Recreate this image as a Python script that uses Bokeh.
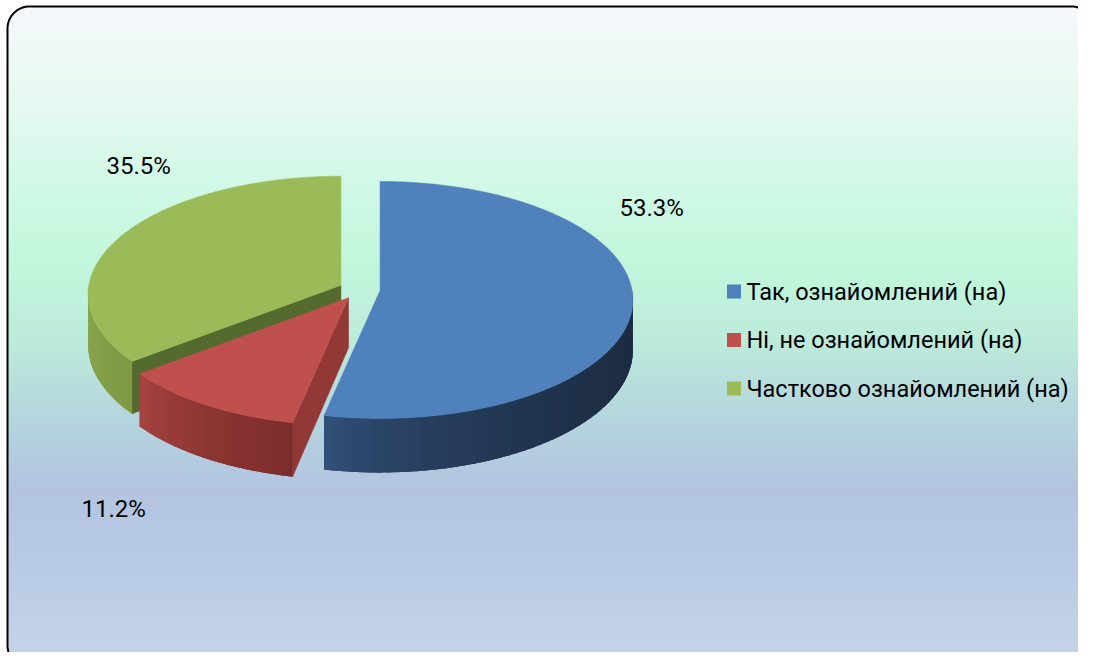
import math
from bokeh.plotting import figure
from bokeh.models import Range1d
from bokeh.core.properties import value
from bokeh.embed import file_html
from bokeh.resources import INLINE

# ---------------- data ----------------
categories = ["Так, ознайомлений (на)", "Ні, не ознайомлений (на)", "Частково ознайомлений (на)"]
shares = [53.3, 11.2, 35.5]
share_labels = ["53.3%", "11.2%", "35.5%"]

# ---------------- styles / layout ----------------
top_colors = ["#4F81BD", "#C0504D", "#9BBB59"]
side_light = ["#33527C", "#AA4542", "#88A44C"]
side_dark = ["#1C2C42", "#7A2C2A", "#7D9943"]
cut_colors = ["#22354F", "#923937", "#556A2F"]
label_pos = [(619, 207), (81, 508), (106, 165)]

W, H = 1078, 652
CX, CY = 359.0, 289.0        # pie centre (screen px)
RX, RY, K = 252.0, 118.5, 0.08
DEPTH = 50.0
EXPLODE = 0.082

p = figure(width=W, height=H, output_backend="svg", toolbar_location=None,
           x_range=Range1d(0, W), y_range=Range1d(H, 0),
           min_border=0, background_fill_color="white", border_fill_color="white")
p.axis.visible = False
p.grid.visible = False
p.outline_line_color = None

# ---------------- background (rounded frame with gradient) ----------------
FX0, FY0, FX1, FY1, FR = 7.0, 6.0, 1093.0, 667.0, 22.0
stops = [(6, "#F5F8FC"), (80, "#EAF9F2"), (180, "#D2F8E7"), (260, "#C2F7DC"),
         (340, "#BCEBDA"), (420, "#B5D4DE"), (490, "#B2C4E0"), (580, "#BACBE5"),
         (668, "#C5D5EA")]

def hex2rgb(h):
    return tuple(int(h[i:i + 2], 16) for i in (1, 3, 5))

def lerp_col(c1, c2, t):
    a, b = hex2rgb(c1), hex2rgb(c2)
    return "#%02x%02x%02x" % tuple(int(round(a[i] + (b[i] - a[i]) * t)) for i in range(3))

def bg_color(y):
    for (y0, c0), (y1, c1) in zip(stops[:-1], stops[1:]):
        if y0 <= y <= y1:
            return lerp_col(c0, c1, (y - y0) / (y1 - y0))
    return stops[-1][1] if y > stops[-1][0] else stops[0][1]

qx0, qx1, qy0, qy1, qc = [], [], [], [], []
y = FY0
step = 2.0
while y < FY1:
    ym = y + step / 2
    inset = 0.0
    if ym < FY0 + FR:
        d = FY0 + FR - ym
        inset = FR - math.sqrt(max(FR * FR - d * d, 0))
    elif ym > FY1 - FR:
        d = ym - (FY1 - FR)
        inset = FR - math.sqrt(max(FR * FR - d * d, 0))
    qx0.append(FX0 + inset)
    qx1.append(FX1 - inset)
    qy0.append(y)
    qy1.append(min(y + step + 0.5, FY1))
    qc.append(bg_color(ym))
    y += step
p.quad(left=qx0, right=qx1, top=qy0, bottom=qy1, fill_color=qc, line_color=None)

# frame border
fx, fy = [], []
corners = [(FX1 - FR, FY0 + FR, -90, 0), (FX1 - FR, FY1 - FR, 0, 90),
           (FX0 + FR, FY1 - FR, 90, 180), (FX0 + FR, FY0 + FR, 180, 270)]
for ccx, ccy, a0, a1 in corners:
    for a in range(a0, a1 + 1, 5):
        fx.append(ccx + FR * math.cos(math.radians(a)))
        fy.append(ccy + FR * math.sin(math.radians(a)))
fx.append(fx[0]); fy.append(fy[0])
p.line(fx, fy, line_color="black", line_width=2)

# ---------------- 3D exploded pie ----------------
def proj(ax, ay, th_deg, r=1.0, z=0.0):
    th = math.radians(th_deg)
    u = math.sin(th) * r
    v = -math.cos(th) * r
    s = 1 + K * v
    return ax + RX * u * s, ay + RY * v * s + z * DEPTH * s

total = float(sum(shares))
starts, ends = [], []
acc = 0.0
for s in shares:
    starts.append(acc / total * 360.0)
    acc += s
    ends.append(acc / total * 360.0)

def arc_angles(a0, a1, n_per_deg=1.0):
    n = max(2, int(abs(a1 - a0) * n_per_deg) + 1)
    return [a0 + (a1 - a0) * i / (n - 1) for i in range(n)]

# draw order: back slices first
order = sorted(range(len(shares)), key=lambda i: -math.cos(math.radians((starts[i] + ends[i]) / 2)))
for i in order:
    th0, th1 = starts[i], ends[i]
    mid = math.radians((th0 + th1) / 2)
    ax = CX + EXPLODE * RX * math.sin(mid)
    ay = CY - EXPLODE * RY * math.cos(mid)

    # radial cut faces
    for th, normal in ((th0, th0 - 90), (th1, th1 + 90)):
        if math.cos(math.radians(normal - 180)) > 0.02:
            tx, ty = proj(ax, ay, th)
            bx, by = proj(ax, ay, th, z=1)
            xs = [ax, tx, bx, ax]
            ys = [ay, ty, by, ay + DEPTH]
            p.patch(xs, ys, fill_color=cut_colors[i], line_color=cut_colors[i], line_width=0.5)

    # outer side
    a0, a1 = max(th0, 90.0), min(th1, 270.0)
    if a1 > a0:
        angs = arc_angles(a0, a1, 0.5)
        pts = [proj(ax, ay, a) for a in angs]
        xs_all = [pt[0] for pt in pts]
        xmin, xmax = min(xs_all), max(xs_all)
        # solid base below the gradient strips (hides seams)
        base_x = [proj(ax, ay, a)[0] for a in angs] + [proj(ax, ay, a, z=1)[0] for a in reversed(angs)]
        base_y = [proj(ax, ay, a)[1] for a in angs] + [proj(ax, ay, a, z=1)[1] for a in reversed(angs)]
        p.patch(base_x, base_y, fill_color=lerp_col(side_light[i], side_dark[i], 0.6),
                line_color=None)
        sx, sy, sc = [], [], []
        for j in range(len(angs) - 1):
            aa = angs[j]
            ab = min(angs[j + 1] + (angs[j + 1] - angs[j]) * 0.5, a1)
            t0 = proj(ax, ay, aa); t1 = proj(ax, ay, ab)
            b0 = proj(ax, ay, aa, z=1); b1 = proj(ax, ay, ab, z=1)
            sx.append([t0[0], t1[0], b1[0], b0[0]])
            sy.append([t0[1], t1[1], b1[1], b0[1]])
            xm = (t0[0] + t1[0]) / 2
            t = (xm - xmin) / (xmax - xmin) if xmax > xmin else 0
            sc.append(lerp_col(side_light[i], side_dark[i], t ** 0.6))
        p.patches(sx, sy, fill_color=sc, line_color=None)

    # top face
    angs = arc_angles(th0, th1, 1.0)
    xs = [ax] + [proj(ax, ay, a)[0] for a in angs]
    ys = [ay] + [proj(ax, ay, a)[1] for a in angs]
    p.patch(xs, ys, fill_color=top_colors[i], line_color=top_colors[i], line_width=0.5)

# ---------------- data labels ----------------
p.text(x=[lp[0] for lp in label_pos], y=[lp[1] for lp in label_pos], text=share_labels,
       text_font=value("Roboto"), text_font_size="24px", text_color="black",
       text_align="left", text_baseline="middle")

# ---------------- legend ----------------
LEG_X, LEG_Y0, LEG_DY, SQ = 733.5, 291.0, 48.5, 14
leg_y = [LEG_Y0 + k * LEG_DY for k in range(len(categories))]
p.rect(x=[LEG_X] * len(categories), y=leg_y, width=SQ, height=SQ,
       fill_color=top_colors, line_color=None)
p.text(x=[LEG_X + 12.5] * len(categories), y=leg_y, text=categories,
       text_font=value("Roboto"), text_font_size="23.5px", text_color="black",
       text_align="left", text_baseline="middle")

open("out.html", "w").write(file_html(p, INLINE))
